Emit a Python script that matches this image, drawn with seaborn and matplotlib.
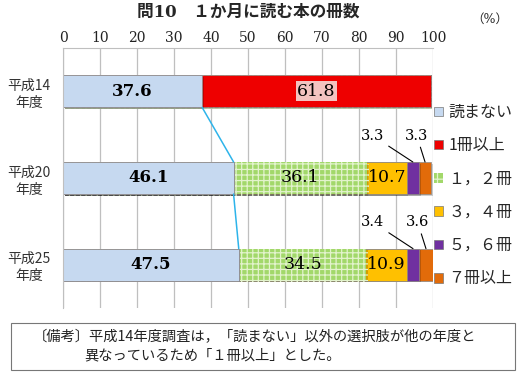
import numpy as np
import pandas as pd
import matplotlib.pyplot as plt
import matplotlib.patheffects as pe
from matplotlib.patches import Patch, Rectangle
import seaborn as sns

# data (%)
years = ['平成14\n年度', '平成20\n年度', '平成25\n年度']
categories = ['読まない', '1冊以上', '１，２冊', '３，４冊', '５，６冊', '７冊以上']
none_read = [37.6, 46.1, 47.5]
one_plus = [61.8, 0, 0]
books_1_2 = [0, 36.1, 34.5]
books_3_4 = [0, 10.7, 10.9]
books_5_6 = [0, 3.3, 3.4]
books_7_plus = [0, 3.3, 3.6]

colors = ['#c6d9f0', '#ee0000', '#a2d86a', '#ffc000', '#7030a0', '#e26b0a']

df = pd.DataFrame({
    '読まない': none_read,
    '1冊以上': one_plus,
    '１，２冊': books_1_2,
    '３，４冊': books_3_4,
    '５，６冊': books_5_6,
    '７冊以上': books_7_plus,
}, index=years)
cum = df.cumsum(axis=1)

sns.set_style('white')
plt.rcParams['font.family'] = ['Noto Sans CJK JP', 'DejaVu Sans']
plt.rcParams['hatch.linewidth'] = 0.9
num_font = ['DejaVu Serif', 'Noto Sans CJK JP']

fig = plt.figure(figsize=(5.21, 3.74), dpi=100)
ax = fig.add_axes([63 / 521, 1 - 308 / 374, 370 / 521, 260 / 374])

bar_w = 0.37
shadow = [pe.SimplePatchShadow(offset=(1.2, -1.2), shadow_rgbFace='k', alpha=0.18), pe.Normal()]

# stacked bars: draw cumulative totals from the last category back to the first
for cat, col in reversed(list(zip(categories, colors))):
    n0 = len(ax.patches)
    kw = dict(edgecolor='#8c8c8c', linewidth=0.5)
    if cat == '１，２冊':
        kw = dict(edgecolor='#e2f3cc', linewidth=0, hatch='+++')
    sns.barplot(x=cum[cat].values, y=years, orient='h', color=col, saturation=1,
                width=bar_w, ax=ax, **kw)
    for p in ax.patches[n0:]:
        p.set_path_effects(shadow)

# connector lines between the 読まない bar ends
for i in range(len(years) - 1):
    ax.plot([none_read[i], none_read[i + 1]], [i + bar_w / 2, i + 1 - bar_w / 2],
            color='#2eb4ea', lw=1.1, zorder=1)

# value labels
for i, yr in enumerate(years):
    for cat in categories:
        val = df.loc[yr, cat]
        if val <= 0:
            continue
        center = cum.loc[yr, cat] - val / 2
        if cat in ('５，６冊', '７冊以上'):
            dx = -29 if cat == '５，６冊' else -6
            ax.annotate(f'{val}', xy=(center, i - bar_w / 2), xytext=(dx, 19),
                        textcoords='offset points', ha='center', va='center',
                        fontsize=10.5, family=num_font, color='black',
                        arrowprops=dict(arrowstyle='-', color='black', lw=0.8,
                                        shrinkA=1, shrinkB=0))
        else:
            bold = cat == '読まない'
            t = ax.text(center, i, f'{val}', ha='center', va='center', color='black',
                        fontsize=12 if bold else 12.5, family=num_font,
                        fontweight='bold' if bold else 'medium', zorder=5)
            if cat == '1冊以上':
                t.set_bbox(dict(facecolor='#f3c3c0', edgecolor='none', pad=1))

ax.set_xlim(0, 100)
ax.set_ylim(2.5, -0.5)
ax.xaxis.tick_top()
ax.set_xticks(range(0, 101, 10))
ax.tick_params(axis='x', length=0, pad=2, labelsize=10, labelcolor='#222222')
for lbl in ax.get_xticklabels():
    lbl.set_fontfamily(num_font)
ax.set_yticks(range(len(years)))
ax.set_yticklabels(years, fontsize=10, color='#333333', multialignment='center',
                   linespacing=1.3)
ax.tick_params(axis='y', length=0, pad=9)
ax.set_xlabel('')
ax.set_ylabel('')
ax.grid(axis='x', color='#bfbfbf', lw=0.9)
ax.grid(axis='y', visible=False)
ax.set_axisbelow(True)
for side in ('right', 'bottom'):
    ax.spines[side].set_visible(False)
for side in ('left', 'top'):
    ax.spines[side].set_color('#bfbfbf')

# legend
handles = []
for cat, col in zip(categories, colors):
    if cat == '１，２冊':
        handles.append(Patch(facecolor=col, edgecolor='#e2f3cc', hatch='++', lw=0))
    else:
        handles.append(Patch(facecolor=col, edgecolor='#777777', lw=0.5))
fig.legend(handles, categories, loc='upper left', bbox_to_anchor=(434 / 521, 1 - 104 / 374),
           frameon=False, fontsize=11.5, handlelength=0.55, handleheight=0.55,
           handletextpad=0.35, labelspacing=1.02, borderaxespad=0, borderpad=0)

fig.text(248 / 521, 1 - 12 / 374, '問10　１か月に読む本の冊数', ha='center', va='center',
         fontsize=12, fontweight='bold', family=num_font)
fig.text(490 / 521, 1 - 19 / 374, '（%）', ha='center', va='center', fontsize=9,
         family=num_font)

# note box
fig.patches.append(Rectangle((11 / 521, 1 - 370 / 374), 504 / 521, 47 / 374, fill=False,
                             edgecolor='#777777', lw=0.8, transform=fig.transFigure))
fig.text(33 / 521, 1 - 337 / 374, '〔備考〕平成14年度調査は，「読まない」以外の選択肢が他の年度と',
         va='center', fontsize=10.3, color='#222222')
fig.text(84 / 521, 1 - 355 / 374, '異なっているため「１冊以上」とした。',
         va='center', fontsize=10.3, color='#222222')

fig.savefig('out.png', dpi=100)
